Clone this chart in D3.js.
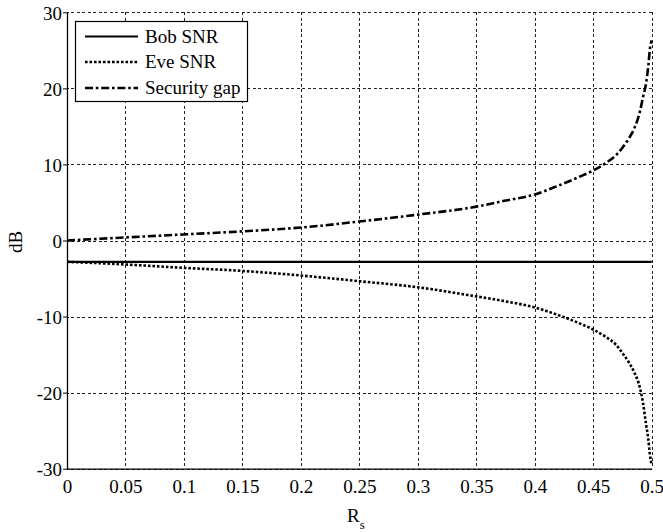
<!DOCTYPE html>
<html>
<head>
<meta charset="utf-8">
<script src="https://cdn.jsdelivr.net/npm/d3@7"></script>
<style>
  html, body { margin: 0; padding: 0; background: #fff; }
  svg { display: block; }
</style>
</head>
<body>
<svg id="chart" width="663" height="532"></svg>
<script>
// ---- data ----
const rsGap = [0, 0.05, 0.1, 0.15, 0.2, 0.25, 0.3, 0.35, 0.375, 0.4, 0.42, 0.44, 0.45, 0.46, 0.47, 0.475, 0.48, 0.485, 0.49, 0.4925, 0.495, 0.497, 0.4985, 0.5];
const securityGap = [0, 0.4, 0.8, 1.2, 1.7, 2.5, 3.4, 4.45, 5.25, 6.05, 7.2, 8.5, 9.2, 10.1, 11.3, 12.2, 13.3, 14.7, 17.0, 18.8, 20.5, 22.8, 25.2, 26.3];
const rsEve = [0, 0.05, 0.1, 0.15, 0.2, 0.25, 0.3, 0.35, 0.375, 0.4, 0.42, 0.44, 0.45, 0.46, 0.47, 0.475, 0.48, 0.485, 0.49, 0.4925, 0.495, 0.497, 0.4985, 0.5];
const eveSNR = [-2.8, -3.15, -3.6, -4.0, -4.6, -5.35, -6.15, -7.35, -8.0, -8.8, -9.8, -11.0, -11.7, -12.6, -13.8, -14.8, -15.9, -17.3, -19.4, -21.3, -24.0, -26.0, -28.2, -29.5];
const rsBob = [0, 0.5];
const bobSNR = [-2.8, -2.8];
const xTicks = [0, 0.05, 0.1, 0.15, 0.2, 0.25, 0.3, 0.35, 0.4, 0.45, 0.5];
const xTickLabels = ["0", "0.05", "0.1", "0.15", "0.2", "0.25", "0.3", "0.35", "0.4", "0.45", "0.5"];
const yTicks = [-30, -20, -10, 0, 10, 20, 30];
const yTickLabels = ["-30", "-20", "-10", "0", "10", "20", "30"];
const legendLabels = ["Bob SNR", "Eve SNR", "Security gap"];

const FONT = "Liberation Serif";

// ---- layout ----
const W = 663, H = 532;
const m = { left: 67, top: 12.3, right: 11.3, bottom: 63.3 };
const iw = W - m.left - m.right, ih = H - m.top - m.bottom;

const svg = d3.select("#chart");
const g = svg.append("g").attr("transform", `translate(${m.left},${m.top})`);

const x = d3.scaleLinear().domain([0, 0.5]).range([0, iw]);
const y = d3.scaleLinear().domain([-30, 30]).range([ih, 0]);

// grid
const gridX = g.append("g")
  .call(d3.axisBottom(x).tickValues(xTicks).tickSize(ih).tickFormat(""));
gridX.select(".domain").remove();
gridX.selectAll("line").attr("stroke", "#222").attr("stroke-width", 1).attr("stroke-dasharray", "3,2.5")
  .attr("shape-rendering", "crispEdges");

const gridY = g.append("g").attr("transform", `translate(${iw},0)`)
  .call(d3.axisLeft(y).tickValues(yTicks).tickSize(iw).tickFormat(""));
gridY.select(".domain").remove();
gridY.selectAll("line").attr("stroke", "#222").attr("stroke-width", 1).attr("stroke-dasharray", "3,2.5")
  .attr("shape-rendering", "crispEdges");

// axes
const xAxis = g.append("g").attr("transform", `translate(0,${ih})`)
  .call(d3.axisBottom(x).tickValues(xTicks).tickSize(0).tickPadding(11)
    .tickFormat((d, i) => xTickLabels[i]));
xAxis.attr("font-family", null);
xAxis.select(".domain").attr("stroke", "#000").attr("stroke-width", 1.3);
xAxis.selectAll("text").attr("font-size", 19).style("font-family", FONT).attr("fill", "#000");

const yAxis = g.append("g")
  .call(d3.axisLeft(y).tickValues(yTicks).tickSize(4).tickSizeOuter(0).tickPadding(1)
    .tickFormat((d, i) => yTickLabels[i]));
yAxis.attr("font-family", null);
yAxis.select(".domain").attr("stroke", "#000").attr("stroke-width", 1.3);
yAxis.selectAll("line").attr("stroke", "#000");
yAxis.selectAll("text").attr("font-size", 19).style("font-family", FONT).attr("fill", "#000")
  .attr("dy", "0.36em");

// lines
const line = d3.line().x(d => x(d[0])).y(d => y(d[1])).curve(d3.curveMonotoneX);
const bobData = rsBob.map((r, i) => [r, bobSNR[i]]);
const eveData = rsEve.map((r, i) => [r, eveSNR[i]]);
const gapData = rsGap.map((r, i) => [r, securityGap[i]]);

g.append("path").datum(bobData).attr("d", line)
  .attr("fill", "none").attr("stroke", "#000").attr("stroke-width", 2.2);
g.append("path").datum(eveData).attr("d", line)
  .attr("fill", "none").attr("stroke", "#000").attr("stroke-width", 2.6)
  .attr("stroke-dasharray", "2.6,1.9");
g.append("path").datum(gapData).attr("d", line)
  .attr("fill", "none").attr("stroke", "#000").attr("stroke-width", 2.6)
  .attr("stroke-dasharray", "8,2.8,2.6,2.8");

// axis labels
const xl = svg.append("text").attr("x", 347).attr("y", 522).attr("font-size", 19)
  .style("font-family", FONT);
xl.append("tspan").text("R");
xl.append("tspan").attr("font-size", 13).attr("dy", 7).text("s");

svg.append("text").attr("transform", "translate(21.5,242) rotate(-90)")
  .attr("text-anchor", "middle").attr("font-size", 19).style("font-family", FONT).text("dB");

// legend
const lg = svg.append("g");
lg.append("rect").attr("x", 75.5).attr("y", 21.5).attr("width", 172).attr("height", 80)
  .attr("fill", "#fff").attr("stroke", "#000").attr("stroke-width", 1.2);
const rowsY = [36.5, 62, 88];
const styles = [
  { w: 2.2, dash: null },
  { w: 2.6, dash: "2.6,1.9" },
  { w: 2.6, dash: "8,2.8,2.6,2.8" }
];
legendLabels.forEach((lab, i) => {
  const l = lg.append("line").attr("x1", 85).attr("x2", 138).attr("y1", rowsY[i]).attr("y2", rowsY[i])
    .attr("stroke", "#000").attr("stroke-width", styles[i].w);
  if (styles[i].dash) l.attr("stroke-dasharray", styles[i].dash);
  lg.append("text").attr("x", 145).attr("y", rowsY[i]).attr("dy", "0.33em")
    .attr("font-size", 19).style("font-family", FONT).text(lab);
});
</script>
</body>
</html>
